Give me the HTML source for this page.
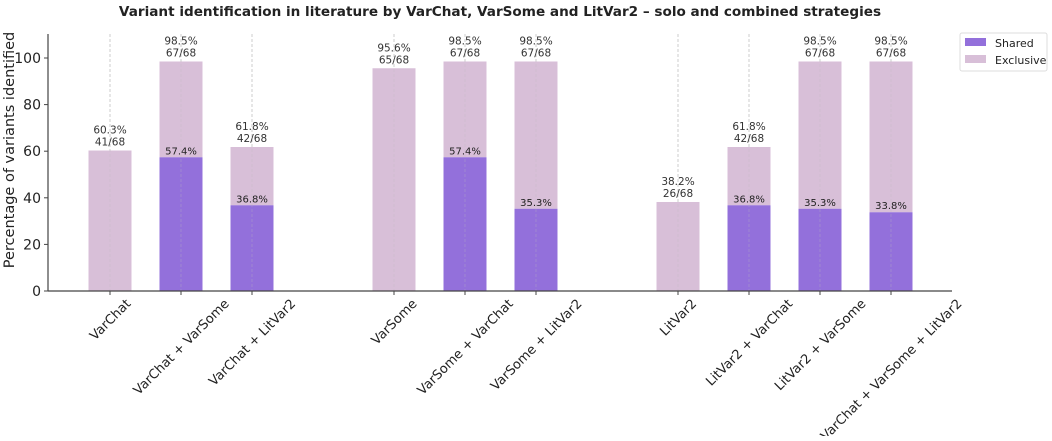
<!DOCTYPE html>
<html><head><meta charset="utf-8"><style>
body{margin:0;background:#fff;font-family:"Liberation Sans","DejaVu Sans",sans-serif}
svg text{font-family:"DejaVu Sans","Liberation Sans",sans-serif}
</style></head><body>
<svg id="chart" width="1052" height="436" xmlns="http://www.w3.org/2000/svg">
<text x="500" y="16" text-anchor="middle" font-size="13.6" font-weight="bold" fill="#222">Variant identification in literature by VarChat, VarSome and LitVar2 – solo and combined strategies</text>
<g id="grid"></g><g id="bars"></g><g id="labels"></g>
<line x1="48" y1="34" x2="48" y2="291" stroke="#444" stroke-width="1.2"/>
<line x1="48" y1="291" x2="952" y2="291" stroke="#444" stroke-width="1.2"/>
<g id="yticks"></g><g id="xticks"></g>
<text transform="translate(14,150) rotate(-90)" text-anchor="middle" font-size="14.5" fill="#222">Percentage of variants identified</text>
<g>
<rect x="960" y="33" width="87" height="38" fill="#fff" stroke="#ddd" rx="2"/>
<rect x="965" y="38" width="21" height="8" fill="#9370DB"/>
<text x="995" y="47" font-size="11" fill="#222">Shared</text>
<rect x="965" y="55" width="21" height="8" fill="#D8BFD8"/>
<text x="995" y="64" font-size="11" fill="#222">Exclusive</text>
</g>
</svg>
<script>
const categories=["VarChat","VarChat + VarSome","VarChat + LitVar2","VarSome","VarSome + VarChat","VarSome + LitVar2","LitVar2","LitVar2 + VarChat","LitVar2 + VarSome","VarChat + VarSome + LitVar2"];
const slots=[0,1,2,4,5,6,8,9,10,11];
const totals=[60.3,98.5,61.8,95.6,98.5,98.5,38.2,61.8,98.5,98.5];
const shared=[0,57.4,36.8,0,57.4,35.3,0,36.8,35.3,33.8];
const counts=["41/68","67/68","42/68","65/68","67/68","67/68","26/68","42/68","67/68","67/68"];
const yTicks=[0,20,40,60,80,100];
const NS="http://www.w3.org/2000/svg";
const y=v=>291-v*2.33;
const x=s=>110+s*71;
const bw=43;
function mk(tag,attrs,parent,txt){const e=document.createElementNS(NS,tag);for(const k in attrs)e.setAttribute(k,attrs[k]);if(txt!==undefined)e.textContent=txt;document.getElementById(parent).appendChild(e);return e;}
yTicks.forEach(t=>{
 const l=mk('line',{x1:44,x2:48,y1:y(t),y2:y(t),stroke:'#444'},'yticks');
 
 
 const tx=mk('text',{x:41,y:y(t)+5,'text-anchor':'end','font-size':14,fill:'#222'},'yticks',t);
 
 
});
categories.forEach((c,i)=>{
 const cx=x(slots[i]);
 const g=mk('line',{x1:cx,x2:cx,y1:34,y2:291,stroke:'#ccc','stroke-width':0.8,'stroke-dasharray':'3,2'},'grid');
 
 
 const ex=mk('rect',{x:cx-bw/2,y:y(totals[i]),width:bw,height:y(shared[i])-y(totals[i]),fill:'#D8BFD8'},'bars');
 
 
 if(shared[i]>0){
  const sh=mk('rect',{x:cx-bw/2,y:y(shared[i]),width:bw,height:291-y(shared[i]),fill:'#9370DB'},'bars');
  
  
  const sl=mk('text',{x:cx,y:y(shared[i])-3,'text-anchor':'middle','font-size':10,fill:'#222'},'labels',shared[i].toFixed(1)+'%');
  
  
 }
 const g2=mk('line',{x1:cx,x2:cx,y1:34,y2:291,stroke:'#bbb','stroke-width':0.6,'stroke-dasharray':'3,2',opacity:0.5},'labels');
 
 
 const t1=mk('text',{x:cx,y:y(totals[i])-17,'text-anchor':'middle','font-size':10.5,fill:'#333'},'labels',totals[i].toFixed(1)+'%');
 
 
 const t2=mk('text',{x:cx,y:y(totals[i])-5,'text-anchor':'middle','font-size':10.5,fill:'#333'},'labels',counts[i]);
 
 
 const tk=mk('line',{x1:cx,x2:cx,y1:291,y2:295,stroke:'#444'},'xticks');
 
 
 const xl=mk('text',{'text-anchor':'middle','font-size':13,fill:'#222'},'xticks',c);
 
 
 const L=xl.getComputedTextLength();
 const half=(L*0.7071+12*0.7071)/2;
 xl.setAttribute('transform',`translate(${cx},${297+half}) rotate(-45)`);
 xl.setAttribute('dy','4.5');
});
</script>
</body></html>
